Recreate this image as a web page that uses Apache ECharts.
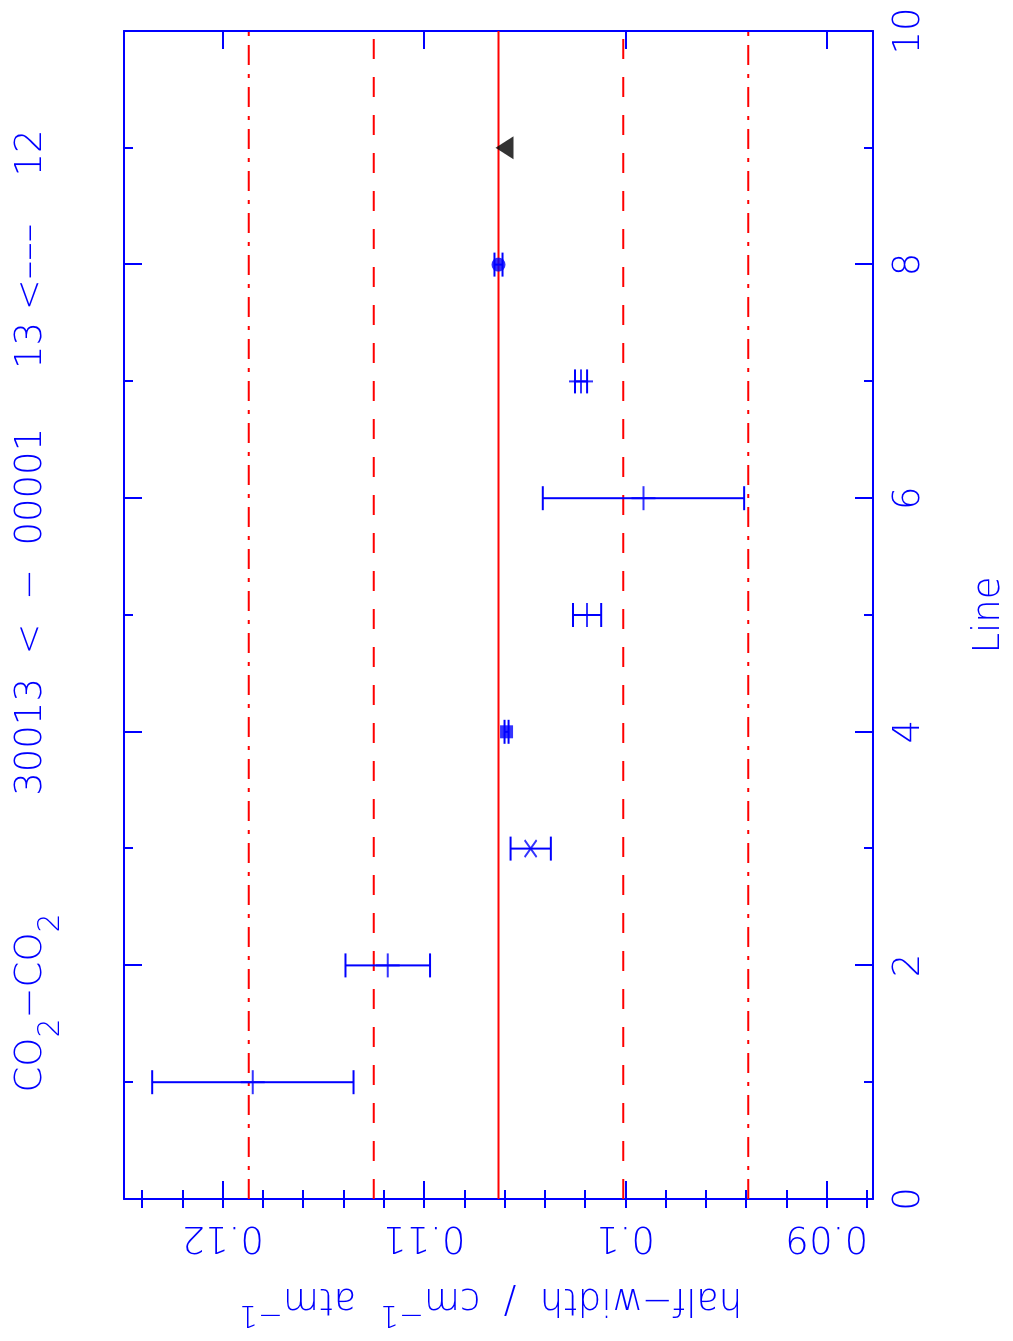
<!DOCTYPE html>
<html>
<head>
<meta charset="utf-8">
<script src="https://cdn.jsdelivr.net/npm/echarts@6/dist/echarts.min.js"></script>
<style>
html,body{margin:0;padding:0;width:1013px;height:1341px;overflow:hidden;background:#ffffff;}
#chart{position:absolute;left:0;top:0;width:1341px;height:1013px;transform-origin:0 0;transform:translate(0px,1341px) rotate(-90deg);}
</style>
</head>
<body>
<div id="chart"></div>
<script>
// ---- data ----
const lines      = [1, 2, 3, 4, 5, 6, 7, 8, 9];
const halfWidths = [0.1185, 0.1118, 0.1047, 0.1059, 0.1019, 0.0991, 0.1022, 0.1063, 0.1060];
const errors     = [0.0050, 0.0021, 0.0010, 0.0001, 0.0007, 0.0050, 0.0003, 0.0002, 0];
const markers    = ['plus', 'plus', 'cross', 'square', 'plus', 'plus', 'plus', 'circle', 'triangle'];
const meanLine   = [0.1063];
const sigma1     = [0.1001, 0.1125];
const sigma2     = [0.0939, 0.1187];
const yRange     = [0.0877, 0.1249];
const yMajor     = [0.09, 0.10, 0.11, 0.12];
const yMinor     = [0.088, 0.090, 0.092, 0.094, 0.096, 0.098, 0.100, 0.102, 0.104, 0.106, 0.108,
                    0.110, 0.112, 0.114, 0.116, 0.118, 0.120, 0.122, 0.124];
const xRange     = [0, 10];

const BLUE = '#0000ff', RED = '#ff0000';
const FONT = '"DejaVu Sans", Verdana, sans-serif';
const FW = 200;
const FS = 37, FS_SMALL = 30;

const markerStyles = {
  plus:     {symbol: 'path://M0,12L24,12M12,0L12,24', symbolSize: 24,
             itemStyle: {color: 'rgba(0,0,0,0)', borderColor: BLUE, borderWidth: 2}},
  cross:    {symbol: 'path://M0,0L17,12M0,12L17,0', symbolSize: [17, 12],
             itemStyle: {color: 'rgba(0,0,0,0)', borderColor: BLUE, borderWidth: 2}},
  square:   {symbol: 'rect', symbolSize: 13, itemStyle: {color: BLUE}},
  circle:   {symbol: 'circle', symbolSize: 14, itemStyle: {color: BLUE}},
  triangle: {symbol: 'triangle', symbolSize: [23, 18], itemStyle: {color: '#000000'}}
};

const errData = lines.map((l, i) => [l, halfWidths[i], errors[i]]);
const markerData = lines.map((l, i) => Object.assign({value: [l, halfWidths[i]]}, markerStyles[markers[i]]));

function refSeries(vals, type) {
  return vals.map(v => ({
    type: 'line', xAxisIndex: 0, yAxisIndex: 0, silent: true, symbol: 'none', z: 1,
    data: [[xRange[0], v], [xRange[1], v]],
    lineStyle: {color: RED, width: 2, type: type}
  }));
}

const labelStyle = {color: BLUE, fontFamily: FONT, fontSize: FS, fontWeight: FW};
const axisLine = {show: true, onZero: false, lineStyle: {color: BLUE, width: 2}};

function xAx(pos, labels) {
  return {
    type: 'value', position: pos, min: xRange[0], max: xRange[1], interval: 2,
    axisLine: axisLine,
    axisTick: {show: true, inside: true, length: 18, lineStyle: {color: BLUE, width: 2}},
    minorTick: {show: true, splitNumber: 2, length: 9, lineStyle: {color: BLUE, width: 2}},
    axisLabel: Object.assign({show: labels, margin: 18}, labelStyle),
    splitLine: {show: false}, minorSplitLine: {show: false},
    name: labels ? 'Line' : '', nameLocation: 'middle', nameGap: 98,
    nameTextStyle: labelStyle
  };
}
function yAx(pos, major, withLabels) {
  const ax = {
    type: 'value', position: pos, min: yRange[0], max: yRange[1],
    axisLine: major ? axisLine : {show: false},
    axisTick: {show: true, inside: true, length: major ? 18 : 9,
               customValues: major ? yMajor : yMinor, lineStyle: {color: BLUE, width: 2}},
    axisLabel: Object.assign({show: withLabels, rotate: 90, margin: 19, customValues: yMajor,
               formatter: v => String(parseFloat(Number(v).toFixed(3)))}, labelStyle),
    splitLine: {show: false}
  };
  if (withLabels) {
    ax.name = '{m|half\u2212width  /  cm}{s|\u22121}{m|  atm}{s|\u22121}';
    ax.nameLocation = 'middle';
    ax.nameRotate = 90;
    ax.nameGap = 81;
    ax.nameTextStyle = {
      color: BLUE, fontFamily: FONT, fontSize: FS, fontWeight: FW, padding: [0, 0, 0, 16],
      rich: {
        m: {color: BLUE, fontFamily: FONT, fontSize: FS, fontWeight: FW, padding: [12, 0, 0, 0], verticalAlign: 'top'},
        s: {color: BLUE, fontFamily: FONT, fontSize: FS_SMALL, fontWeight: FW, verticalAlign: 'top'}
      }
    };
  }
  return ax;
}

const chart = echarts.init(document.getElementById('chart'), null, {renderer: 'canvas'});
chart.setOption({
  animation: false,
  backgroundColor: '#ffffff',
  grid: {left: 142, right: 31, top: 124, bottom: 139, containLabel: false},
  xAxis: [xAx('bottom', true), xAx('top', false)],
  yAxis: [yAx('left', true, true), yAx('left', false, false), yAx('right', true, false), yAx('right', false, false)],
  graphic: [{
    type: 'text', x: 730, y: 13, silent: true,
    style: {
      text: '{m|CO}{s|2}{m|\u2212CO}{s|2}{m|          30013  <  \u2212  00001     13 <\u2013\u2013\u2013    12}',
      align: 'center', verticalAlign: 'top', fill: BLUE,
      font: FW + ' ' + FS + 'px ' + FONT,
      rich: {
        m: {fill: BLUE, color: BLUE, fontFamily: FONT, fontSize: FS, fontWeight: FW, verticalAlign: 'top'},
        s: {fill: BLUE, color: BLUE, fontFamily: FONT, fontSize: FS_SMALL, fontWeight: FW, verticalAlign: 'top', padding: [23, 0, 0, 0]}
      }
    }
  }],
  series: [].concat(
    refSeries(meanLine, 'solid'),
    refSeries(sigma1, [20, 18]),
    refSeries(sigma2, [20, 9, 4, 9]),
    [{
      type: 'custom', xAxisIndex: 0, yAxisIndex: 0, z: 3, silent: true,
      data: errData,
      renderItem: function (params, api) {
        const x = api.value(0), y = api.value(1), e = api.value(2);
        if (!e) return null;
        const p1 = api.coord([x, y - e]), p2 = api.coord([x, y + e]);
        const h = 12;
        const st = {stroke: BLUE, lineWidth: 2};
        return {type: 'group', children: [
          {type: 'line', shape: {x1: p1[0], y1: p1[1], x2: p2[0], y2: p2[1]}, style: st},
          {type: 'line', shape: {x1: p1[0] - h, y1: p1[1], x2: p1[0] + h, y2: p1[1]}, style: st},
          {type: 'line', shape: {x1: p2[0] - h, y1: p2[1], x2: p2[0] + h, y2: p2[1]}, style: st}
        ]};
      }
    }, {
      type: 'scatter', xAxisIndex: 0, yAxisIndex: 0, z: 4, silent: true,
      data: markerData
    }]
  )
});
</script>
</body>
</html>
